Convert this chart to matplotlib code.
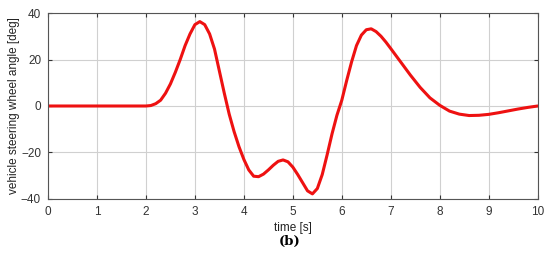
import numpy as np
import matplotlib
matplotlib.use("Agg")
import matplotlib.pyplot as plt

plt.rcParams['font.family'] = ['Liberation Sans', 'DejaVu Sans']

# steering wheel angle
t = [0, 2.0, 2.1, 2.2, 2.3, 2.4, 2.5, 2.6, 2.7, 2.8, 2.9,
     3.0, 3.1, 3.2, 3.3, 3.4, 3.5, 3.6, 3.7, 3.8, 3.9,
     4.0, 4.1, 4.2, 4.3, 4.4, 4.5, 4.6, 4.7, 4.8, 4.9,
     5.0, 5.1, 5.2, 5.3, 5.4, 5.5, 5.6, 5.7, 5.8, 5.9,
     6.0, 6.1, 6.2, 6.3, 6.4, 6.5, 6.6, 6.7, 6.8, 6.9,
     7.0, 7.2, 7.4, 7.6, 7.8, 8.0, 8.2, 8.4, 8.6, 8.8,
     9.0, 9.2, 9.4, 9.6, 9.8, 10.0]
angle = [0, 0, 0.2, 1, 2.5, 5.5, 9.5, 14.5, 20, 26, 31,
         35, 36.3, 35, 31, 24.5, 15, 5.5, -3.5, -11, -17.5,
         -23, -27.5, -30.2, -30.4, -29.3, -27.5, -25.5, -23.8, -23.2, -24,
         -26.3, -29.5, -33, -36.5, -37.8, -35.5, -29.5, -21, -12, -4,
         2.5, 11, 19, 26, 30.5, 32.8, 33.2, 32, 30, 27.5,
         24.7, 19, 13.3, 8, 3.5, 0.3, -2.2, -3.5, -4.1, -4.0,
         -3.6, -2.9, -2.1, -1.3, -0.6, 0]

xticks = np.arange(0, 11, 1)
yticks = [-40, -20, 0, 20, 40]

fig = plt.figure(figsize=(5.5, 2.57), dpi=100)
ax = fig.add_axes([0.0873, 0.2257, 0.8903, 0.7237])

ax.plot(t, angle, color='#ee1111', lw=2.2, solid_capstyle='round',
        solid_joinstyle='round')

ax.set_xlim(0, 10)
ax.set_ylim(-40, 40)
ax.set_xticks(xticks)
ax.set_yticks(yticks)
ax.grid(True, color='#d0d0d0', lw=0.8)
ax.tick_params(direction='in', top=True, right=True, length=3,
               labelsize=8.5, colors='#333333', width=0.8, pad=5)
for s in ax.spines.values():
    s.set_color('#555555')
    s.set_linewidth(0.8)

ax.set_xlabel('time [s]', fontsize=8.5, color='#222222', labelpad=3)
ax.set_ylabel('vehicle steering wheel angle [deg]', fontsize=8.5, color='#222222', labelpad=1)

fig.text(0.527, 0.062, '(b)', fontsize=9.5, fontweight='bold', family='DejaVu Serif',
         ha='center', va='center')

fig.savefig('out.png', dpi=100)
